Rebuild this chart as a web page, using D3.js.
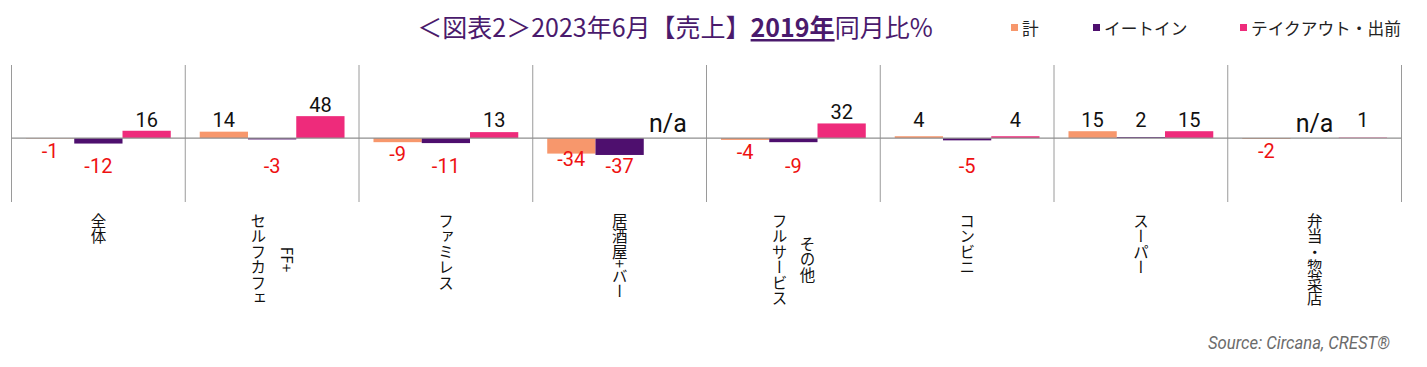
<!DOCTYPE html>
<html><head><meta charset="utf-8">
<script src="https://cdn.jsdelivr.net/npm/d3@7"></script>
<style>
body{margin:0;background:#fff;}
svg{display:block;}
</style></head><body>
<svg id="c" width="1427" height="367"></svg>
<script>
// ---- data ----
const categories = ["全体", "FF+\nセルフカフェ", "ファミレス", "居酒屋+バー", "その他\nフルサービス", "コンビニ", "スーパー", "弁当・惣菜店"];
const seriesNames = ["計", "イートイン", "テイクアウト・出前"];
const totalValues = [-1, 14, -9, -34, -4, 4, 15, -2];
const eatInValues = [-12, -3, -11, -37, -9, -5, 2, null];
const takeoutValues = [16, 48, 13, null, 32, 4, 15, 1];
const yDomain = [-140, 160];
const titleParts = [
  {t: "＜図表2＞2023年6月【売上】", bold: false},
  {t: "2019年", bold: true},
  {t: "同月比%", bold: false}
];
const sourceText = "Source: Circana, CREST®";

// ---- chart ----
const colors = ["#F7976C", "#4E0F6E", "#EE2B7B"];
const seriesValues = [totalValues, eatInValues, takeoutValues];
const svg = d3.select("#c");
const jp = "'Noto Sans CJK JP', 'Noto Sans', sans-serif";
const num = "Roboto, 'Liberation Sans', sans-serif";

const x0 = d3.scaleBand().domain(categories).range([11.5, 1401.5]).padding(0);
const x1 = d3.scaleBand().domain(seriesNames).range([0, x0.bandwidth()]).paddingInner(0).paddingOuter(0.3);
const y = d3.scaleLinear().domain(yDomain).range([202, 65]);

// separators
const seps = categories.map(c => x0(c)).concat([x0.range()[1]]);
svg.append("g").selectAll("line").data(seps).join("line")
  .attr("x1", d => d).attr("x2", d => d)
  .attr("y1", y(yDomain[1])).attr("y2", y(yDomain[0]))
  .attr("stroke", "#9a9a9a").attr("stroke-width", 1);

// bars
const rows = [];
categories.forEach((c, i) => seriesNames.forEach((s, j) => rows.push({c, s, j, i, v: seriesValues[j][i]})));

svg.append("g").selectAll("rect").data(rows.filter(d => d.v !== null)).join("rect")
  .attr("x", d => x0(d.c) + x1(d.s))
  .attr("width", x1.bandwidth())
  .attr("y", d => y(Math.max(0, d.v)))
  .attr("height", d => Math.abs(y(d.v) - y(0)))
  .attr("fill", d => colors[d.j]);

// zero line
svg.append("line")
  .attr("x1", x0.range()[0]).attr("x2", x0.range()[1])
  .attr("y1", y(0)).attr("y2", y(0))
  .attr("stroke", "#8f8f8f").attr("stroke-width", 1.3);

// value labels
const gLab = svg.append("g").attr("font-family", num).attr("text-anchor", "middle");
rows.forEach(d => {
  const cx = x0(d.c) + x1(d.s) + x1.bandwidth() / 2;
  if (d.v === null) {
    gLab.append("text").attr("x", cx).attr("y", y(0) - 6.5)
      .attr("font-size", 25).attr("fill", "#111").text("n/a");
    return;
  }
  let center;
  if (d.v >= 0) {
    center = Math.min(y(d.v) - 11, 120);
    gLab.append("text").attr("x", cx).attr("y", center + 7)
      .attr("font-size", 20).attr("fill", "#111").text(d.v);
  } else {
    const bottom = y(d.v);
    if (d.j === 1) center = Math.max(bottom + 11, 166);
    else center = Math.min(bottom + 12, 159);
    gLab.append("text").attr("x", cx).attr("y", center + 7)
      .attr("font-size", 20).attr("fill", "#EE1111").text(d.v);
  }
});

// category labels (vertical, one glyph per slot; Latin runs rotated)
const labTop = 213, lineGap = 28, catFs = 15.5;
const gCat = svg.append("g").attr("font-family", jp).attr("font-size", catFs).attr("fill", "#111");
function runsOf(line) {
  const runs = [];
  for (const ch of line) {
    const latin = ch.charCodeAt(0) < 0x2000;
    const last = runs[runs.length - 1];
    if (latin && last && last.latin) last.t += ch;
    else runs.push({t: ch, latin});
  }
  return runs;
}
categories.forEach(c => {
  const lines = c.split("\n");
  const n = lines.length;
  const cx = x0(c) + x0.bandwidth() / 2;
  // measure each line
  const laid = lines.map((ln, k) => {
    const off = (n - 1) / 2 * lineGap - k * lineGap;
    const runs = runsOf(ln).map(r => {
      if (r.latin) {
        const t = gCat.append("text").attr("x", 0).attr("y", 0).text(r.t);
        r.len = t.node().getComputedTextLength();
        t.remove();
      } else r.len = catFs;
      return r;
    });
    return {x: cx + off, runs, len: d3.sum(runs, r => r.len)};
  });
  const maxLen = d3.max(laid, l => l.len);
  laid.forEach(l => {
    let pos = labTop + (maxLen - l.len) / 2;
    l.runs.forEach(r => {
      if (r.latin) {
        gCat.append("text")
          .attr("transform", `translate(${l.x},${pos}) rotate(90)`)
          .attr("x", 0).attr("y", catFs * 0.36)
          .text(r.t);
      } else {
        gCat.append("text")
          .attr("x", l.x).attr("y", pos + catFs / 2)
          .attr("text-anchor", "middle")
          .style("writing-mode", "vertical-rl").style("text-orientation", "upright")
          .text(r.t);
      }
      pos += r.len;
    });
  });
});

// title
const title = svg.append("text").attr("x", 675).attr("y", 37)
  .attr("text-anchor", "middle").attr("font-family", jp)
  .attr("font-size", 25).attr("fill", "#4A1A6C");
titleParts.forEach(p => {
  const ts = title.append("tspan").text(p.t);
  if (p.bold) ts.attr("font-weight", "bold").attr("text-decoration", "underline");
});

// legend
const legX = [1011, 1093, 1240];
const leg = svg.append("g");
seriesNames.forEach((s, j) => {
  leg.append("rect").attr("x", legX[j]).attr("y", 24).attr("width", 7).attr("height", 7).attr("fill", colors[j]);
  leg.append("text").attr("x", legX[j] + 11).attr("y", 35)
    .attr("font-family", jp).attr("font-size", 16.7).attr("fill", "#222").text(s);
});

// source
svg.append("text").attr("x", 1390).attr("y", 349)
  .attr("text-anchor", "end").attr("font-family", num).attr("font-style", "italic")
  .attr("font-size", 19).attr("fill", "#6b6b6b")
  .attr("textLength", 182).attr("lengthAdjust", "spacingAndGlyphs")
  .text(sourceText);
</script>
</body></html>
